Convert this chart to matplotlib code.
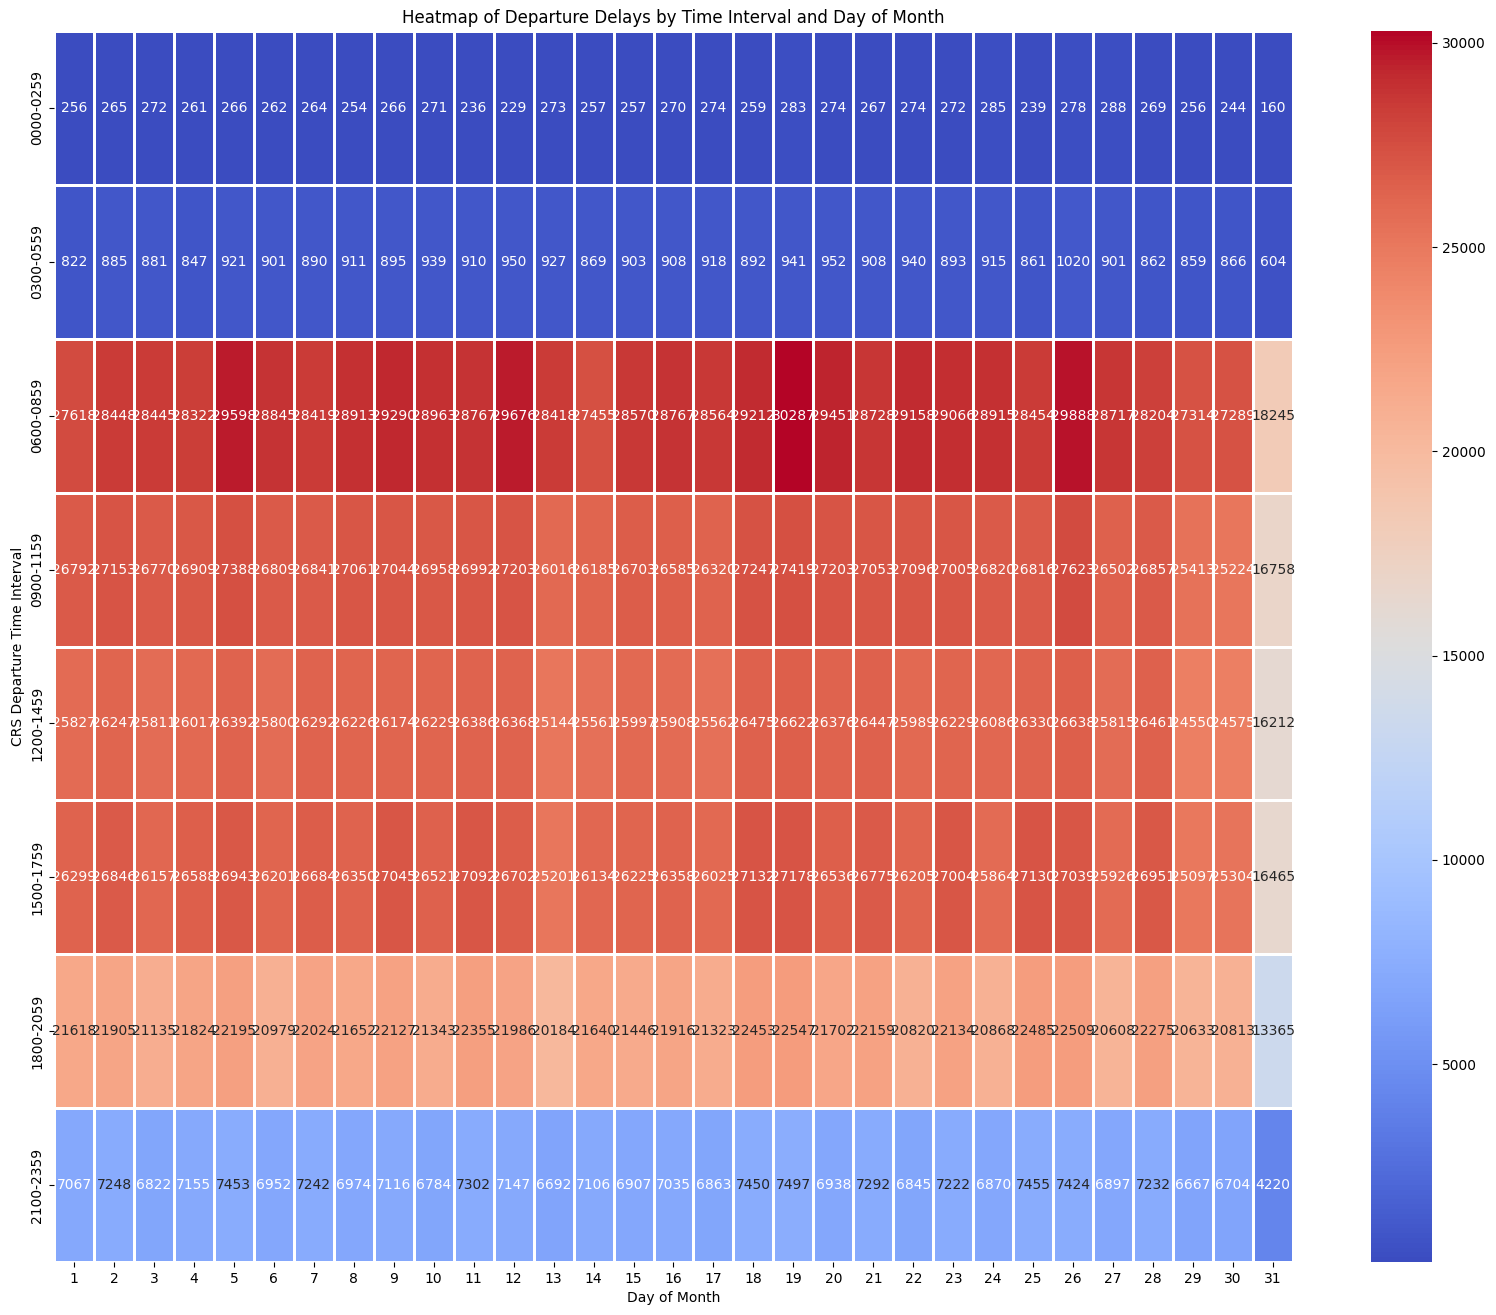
import numpy as np
import pandas as pd
import matplotlib
matplotlib.use('Agg')
import matplotlib.pyplot as plt
import seaborn as sns

# ── Data ─────────────────────────────────────────────────────────────────────
days = list(range(1, 32))
intervals = ['0000-0259', '0300-0559', '0600-0859', '0900-1159',
             '1200-1459', '1500-1759', '1800-2059', '2100-2359']

delays_0000 = [256, 265, 272, 261, 266, 262, 264, 254, 266, 271, 236, 229, 273, 257, 257, 270,
               274, 259, 283, 274, 267, 274, 272, 285, 239, 278, 288, 269, 256, 244, 160]
delays_0300 = [822, 885, 881, 847, 921, 901, 890, 911, 895, 939, 910, 950, 927, 869, 903, 908,
               918, 892, 941, 952, 908, 940, 893, 915, 861, 1020, 901, 862, 859, 866, 604]
delays_0600 = [27618, 28448, 28445, 28322, 29598, 28845, 28419, 28913, 29290, 28963, 28767,
               29676, 28418, 27455, 28570, 28767, 28564, 29212, 30287, 29451, 28728, 29158,
               29066, 28915, 28454, 29888, 28717, 28204, 27314, 27289, 18245]
delays_0900 = [26792, 27153, 26770, 26909, 27388, 26809, 26841, 27061, 27044, 26958, 26992,
               27203, 26016, 26185, 26703, 26585, 26320, 27247, 27419, 27203, 27053, 27096,
               27005, 26820, 26816, 27623, 26502, 26857, 25413, 25224, 16758]
delays_1200 = [25827, 26247, 25811, 26017, 26392, 25800, 26292, 26226, 26174, 26229, 26386,
               26368, 25144, 25561, 25997, 25908, 25562, 26475, 26622, 26376, 26447, 25989,
               26229, 26086, 26330, 26638, 25815, 26461, 24550, 24575, 16212]
delays_1500 = [26299, 26846, 26157, 26588, 26943, 26201, 26684, 26350, 27045, 26521, 27092,
               26702, 25201, 26134, 26225, 26358, 26025, 27132, 27178, 26536, 26775, 26205,
               27004, 25864, 27130, 27039, 25926, 26951, 25097, 25304, 16465]
delays_1800 = [21618, 21905, 21135, 21824, 22195, 20979, 22024, 21652, 22127, 21343, 22355,
               21986, 20184, 21640, 21446, 21916, 21323, 22453, 22547, 21702, 22159, 20820,
               22134, 20868, 22485, 22509, 20608, 22275, 20633, 20813, 13365]
delays_2100 = [7067, 7248, 6822, 7155, 7453, 6952, 7242, 6974, 7116, 6784, 7302, 7147, 6692,
               7106, 6907, 7035, 6863, 7450, 7497, 6938, 7292, 6845, 7222, 6870, 7455, 7424,
               6897, 7232, 6667, 6704, 4220]

pivot = pd.DataFrame(
    [delays_0000, delays_0300, delays_0600, delays_0900,
     delays_1200, delays_1500, delays_1800, delays_2100],
    index=intervals, columns=days)

# ── Figure ───────────────────────────────────────────────────────────────────
fig = plt.figure(figsize=(14.96, 13.15), dpi=100)
ax = fig.add_axes([0.0361, 0.0403, 0.8282, 0.9361])
cax = fig.add_axes([0.9165, 0.0403, 0.0408, 0.9361])

sns.heatmap(pivot, ax=ax, cbar_ax=cax, cmap='coolwarm', annot=True, fmt='d',
            linewidths=2, linecolor='white')

ax.set_title('Heatmap of Departure Delays by Time Interval and Day of Month')
ax.set_xlabel('Day of Month')
ax.set_ylabel('CRS Departure Time Interval')

fig.savefig('out.png', dpi=100)
plt.close(fig)
